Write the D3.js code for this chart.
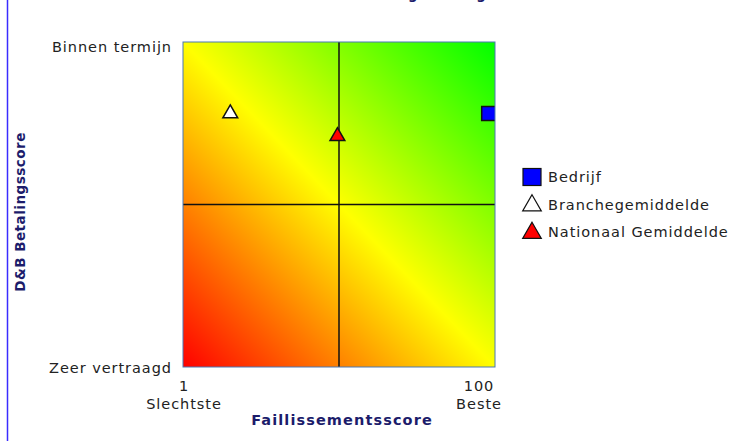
<!DOCTYPE html>
<html>
<head>
<meta charset="utf-8">
<script src="https://cdn.jsdelivr.net/npm/d3@7"></script>
<style>
  body { margin: 0; background: #fff; }
  svg { display: block; font-family: 'DejaVu Sans', Verdana, sans-serif; }
</style>
</head>
<body>
<div id="visualization"></div>
<script>
// Data
const series = ['Bedrijf', 'Branchegemiddelde', 'Nationaal Gemiddelde'];
const faillissementsscore = [98, 16, 50];
const betalingsscore = [78, 78, 71];
const xTicks = [1, 100];
const xTickNames = ['Slechtste', 'Beste'];
const yTicks = [0, 100];
const yTickNames = ['Zeer vertraagd', 'Binnen termijn'];

// Styles per series
const shapes = [d3.symbolSquare, d3.symbolTriangle, d3.symbolTriangle];
const fills = ['#0000ff', '#ffffff', '#ff0000'];

const width = 755;
const height = 441;
const plot = { left: 183, right: 495, top: 42, bottom: 367 };
const navy = '#1c1c6b';
const labelSpacing = '0.95px';

const svg = d3.select('#visualization')
  .append('svg')
  .attr('width', width)
  .attr('height', height);

// left blue rule
svg.append('line')
  .attr('x1', 7.5).attr('x2', 7.5)
  .attr('y1', 0).attr('y2', height)
  .attr('stroke', '#3a2cff')
  .attr('stroke-width', 1.5);

// title (mostly above the visible area)
const title = svg.append('text')
  .attr('y', -1.5)
  .style('font-size', '13.5px')
  .style('font-weight', 'bold')
  .style('fill', navy)
  .text('Beoordeling Betaling');
const gPos = title.node().getStartPositionOfChar(10).x;
title.attr('x', 408 - gPos);

const x = d3.scaleLinear().domain([1, 100]).range([plot.left, plot.right]);
const y = d3.scaleLinear().domain([0, 100]).range([plot.bottom, plot.top]);

// background gradient
const defs = svg.append('defs');
const grad = defs.append('linearGradient')
  .attr('id', 'bg')
  .attr('x1', 0).attr('y1', 1)
  .attr('x2', 1).attr('y2', 0);
grad.append('stop').attr('offset', 0).attr('stop-color', '#ff0000');
grad.append('stop').attr('offset', 0.5).attr('stop-color', '#ffff00');
grad.append('stop').attr('offset', 1).attr('stop-color', '#00ff00');

defs.append('clipPath').attr('id', 'clip')
  .append('rect')
  .attr('x', plot.left).attr('y', plot.top)
  .attr('width', plot.right - plot.left)
  .attr('height', plot.bottom - plot.top);

svg.append('rect')
  .attr('x', plot.left).attr('y', plot.top)
  .attr('width', plot.right - plot.left)
  .attr('height', plot.bottom - plot.top)
  .attr('fill', 'url(#bg)');

// quadrant lines
svg.append('line')
  .attr('x1', x(50.5)).attr('x2', x(50.5))
  .attr('y1', plot.top).attr('y2', plot.bottom)
  .attr('stroke', '#111').attr('stroke-width', 1.5);
svg.append('line')
  .attr('x1', plot.left).attr('x2', plot.right)
  .attr('y1', y(50)).attr('y2', y(50))
  .attr('stroke', '#111').attr('stroke-width', 1.5);

// points
const pts = svg.append('g').attr('clip-path', 'url(#clip)');
series.forEach((s, i) => {
  const size = i === 0 ? 196 : 95;
  pts.append('path')
    .attr('transform', `translate(${x(faillissementsscore[i])},${y(betalingsscore[i])})`)
    .attr('d', d3.symbol().type(shapes[i]).size(size)())
    .attr('fill', fills[i])
    .attr('stroke', '#111')
    .attr('stroke-width', 1.5);
});

// plot border
svg.append('rect')
  .attr('x', plot.left).attr('y', plot.top)
  .attr('width', plot.right - plot.left)
  .attr('height', plot.bottom - plot.top)
  .attr('fill', 'none')
  .attr('stroke', '#4a78b5')
  .attr('stroke-width', 1);

// y tick labels
yTicks.forEach((t, i) => {
  svg.append('text')
    .attr('x', plot.left - 11)
    .attr('y', y(t) + (i === 0 ? 5.5 : 10))
    .attr('text-anchor', 'end')
    .style('font-size', '14.5px')
    .style('letter-spacing', labelSpacing)
    .style('fill', '#222')
    .text(yTickNames[i]);
});

// x tick labels
xTicks.forEach((t, i) => {
  const cx = x(t) + (i === 0 ? 1 : -16);
  svg.append('text')
    .attr('x', cx).attr('y', 390.5)
    .attr('text-anchor', 'middle')
    .style('font-size', '14.5px')
    .style('letter-spacing', labelSpacing)
    .style('fill', '#222')
    .text(t);
  svg.append('text')
    .attr('x', cx).attr('y', 408.5)
    .attr('text-anchor', 'middle')
    .style('font-size', '14.5px')
    .style('letter-spacing', labelSpacing)
    .style('fill', '#222')
    .text(xTickNames[i]);
});

// axis titles
svg.append('text')
  .attr('x', 342).attr('y', 425)
  .attr('text-anchor', 'middle')
  .style('font-size', '14.5px')
  .style('font-weight', 'bold')
  .style('letter-spacing', '1.1px')
  .style('fill', navy)
  .text('Faillissementsscore');

svg.append('text')
  .attr('transform', 'translate(25,212) rotate(-90)')
  .attr('text-anchor', 'middle')
  .style('font-size', '13.5px')
  .style('font-weight', 'bold')
  .style('letter-spacing', '0.5px')
  .style('fill', navy)
  .text('D&B Betalingsscore');

// legend
const legend = svg.append('g').attr('transform', 'translate(532,177)');
series.forEach((s, i) => {
  const row = legend.append('g').attr('transform', `translate(0,${i * 27.5})`);
  if (i === 0) {
    row.append('rect')
      .attr('x', -9).attr('y', -8.5)
      .attr('width', 18).attr('height', 17)
      .attr('fill', fills[i])
      .attr('stroke', '#111').attr('stroke-width', 1.2);
  } else {
    row.append('path')
      .attr('transform', 'translate(0,1)')
      .attr('d', d3.symbol().type(shapes[i]).size(150)())
      .attr('fill', fills[i])
      .attr('stroke', '#111').attr('stroke-width', 1.2);
  }
  row.append('text')
    .attr('x', 16).attr('y', 5)
    .style('font-size', '14.5px')
    .style('letter-spacing', labelSpacing)
    .style('fill', '#222')
    .text(s);
});
</script>
</body>
</html>
